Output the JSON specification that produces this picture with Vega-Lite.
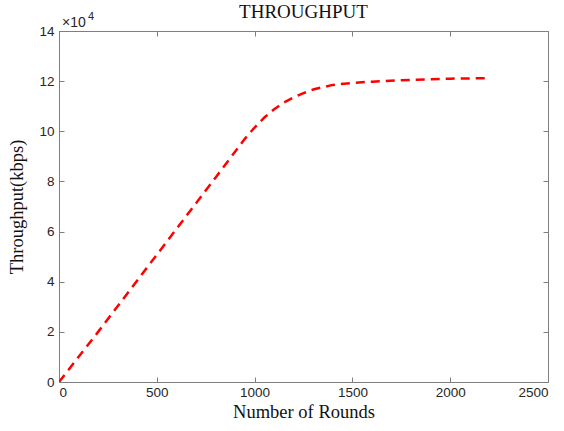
{
  "$schema": "https://vega.github.io/schema/vega-lite/v6.json",
  "autosize": "none",
  "width": 489,
  "height": 351,
  "padding": {"left": 59, "top": 31, "right": 16, "bottom": 49},
  "background": "white",
  "config": {
    "view": {"stroke": null},
    "axis": {
      "grid": false,
      "domainColor": "#7f7f7f",
      "tickColor": "#7f7f7f",
      "labelColor": "#262626",
      "labelFont": "Liberation Sans",
      "labelFontSize": 13.5,
      "titleFont": "Liberation Serif",
      "titleFontSize": 18.5,
      "titleFontWeight": "normal",
      "titleColor": "#111111",
      "tickSize": -5
    }
  },
  "title": {
    "text": "THROUGHPUT",
    "font": "Liberation Serif",
    "fontSize": 19,
    "fontWeight": "normal",
    "color": "#111111",
    "offset": -11
  },
  "data": {
    "values": [
      {"rounds": 0, "throughput": 0},
      {"rounds": 200, "throughput": 20000},
      {"rounds": 400, "throughput": 40500},
      {"rounds": 600, "throughput": 61000},
      {"rounds": 800, "throughput": 81500},
      {"rounds": 950, "throughput": 97000},
      {"rounds": 1000, "throughput": 101500},
      {"rounds": 1050, "throughput": 105500},
      {"rounds": 1100, "throughput": 108800},
      {"rounds": 1150, "throughput": 111500},
      {"rounds": 1200, "throughput": 113500},
      {"rounds": 1250, "throughput": 115200},
      {"rounds": 1300, "throughput": 116700},
      {"rounds": 1400, "throughput": 118500},
      {"rounds": 1500, "throughput": 119300},
      {"rounds": 1600, "throughput": 119800},
      {"rounds": 1800, "throughput": 120500},
      {"rounds": 2000, "throughput": 121000},
      {"rounds": 2200, "throughput": 121200}
    ]
  },
  "layer": [
    {
      "mark": {"type": "line", "color": "#ff0000", "strokeWidth": 2.5, "strokeDash": [9, 6], "clip": true},
      "encoding": {
        "x": {
          "field": "rounds", "type": "quantitative",
          "scale": {"domain": [0, 2500], "nice": false},
          "axis": {"orient": "bottom", "values": [0, 500, 1000, 1500, 2000, 2500], "format": "d", "title": "Number of Rounds", "labelPadding": 8, "titlePadding": 4}
        },
        "y": {
          "field": "throughput", "type": "quantitative",
          "scale": {"domain": [0, 140000], "nice": false},
          "axis": {"orient": "left", "values": [0, 20000, 40000, 60000, 80000, 100000, 120000, 140000], "labelExpr": "datum.value / 10000", "title": "Throughput(kbps)", "labelPadding": 10, "titlePadding": 12}
        }
      }
    },
    {
      "mark": {"type": "line", "strokeOpacity": 0},
      "encoding": {
        "x": {
          "field": "rounds", "type": "quantitative",
          "axis": {"orient": "top", "values": [0, 500, 1000, 1500, 2000, 2500], "labels": false, "title": null}
        },
        "y": {
          "field": "throughput", "type": "quantitative",
          "axis": {"orient": "right", "values": [0, 20000, 40000, 60000, 80000, 100000, 120000, 140000], "labels": false, "title": null}
        }
      }
    },
    {
      "data": {"values": [{"rounds": 0, "throughput": 140000, "label": "×10"}]},
      "mark": {"type": "text", "align": "left", "baseline": "alphabetic", "dx": 3, "dy": -4, "font": "Liberation Sans", "fontSize": 14, "color": "#262626"},
      "encoding": {
        "x": {"field": "rounds", "type": "quantitative", "axis": null},
        "y": {"field": "throughput", "type": "quantitative", "axis": null},
        "text": {"field": "label"}
      }
    },
    {
      "data": {"values": [{"rounds": 0, "throughput": 140000, "label": "4"}]},
      "mark": {"type": "text", "align": "left", "baseline": "alphabetic", "dx": 29, "dy": -11, "font": "Liberation Sans", "fontSize": 11, "color": "#262626"},
      "encoding": {
        "x": {"field": "rounds", "type": "quantitative", "axis": null},
        "y": {"field": "throughput", "type": "quantitative", "axis": null},
        "text": {"field": "label"}
      }
    }
  ],
  "resolve": {"axis": {"x": "independent", "y": "independent"}}
}
